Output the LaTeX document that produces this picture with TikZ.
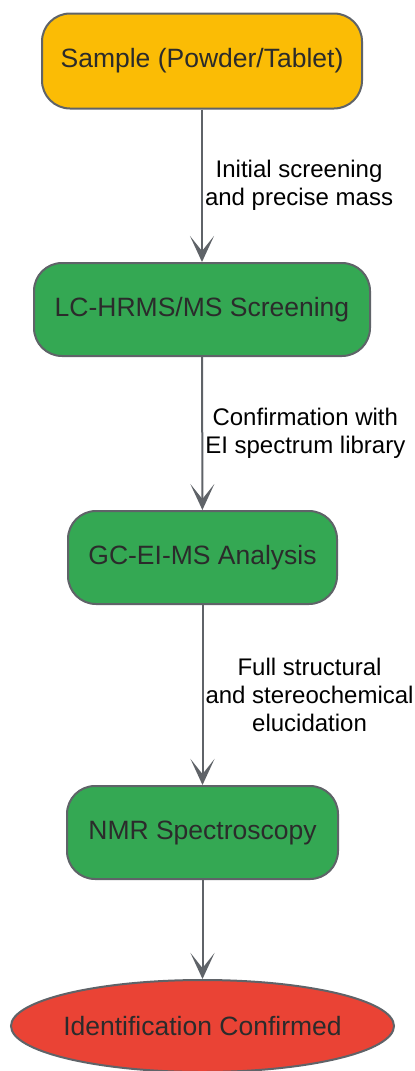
\documentclass[tikz,border=0pt]{standalone}
\usepackage{fontspec}
\setmainfont{Liberation Sans}
\usetikzlibrary{shapes.geometric,arrows.meta}
\definecolor{edgegray}{HTML}{5F6368}
\definecolor{inktext}{HTML}{2B2B2B}
\definecolor{sampleyellow}{HTML}{FBBC05}
\definecolor{stagegreen}{HTML}{34A853}
\definecolor{resultred}{HTML}{EA4335}
\tikzset{
	stage/.style={draw=edgegray, line width=2pt, rounded corners=28pt, fill=stagegreen,
		text=inktext, minimum height=93pt, font=\fontsize{26.5}{30}\selectfont},
	flow/.style={draw=edgegray, line width=2pt, -{Stealth[length=26pt,width=24pt,inset=15pt]}},
	note/.style={right, align=center, inner sep=2pt, font=\fontsize{24}{28}\selectfont}
}
\begin{document}
\begin{tikzpicture}[x=1pt,y=-1pt]
		\useasboundingbox (0,0) rectangle (415,1071);

		\node[stage, fill=sampleyellow, minimum width=320pt, minimum height=95pt] (sample) at (202,61) {Sample (Powder/Tablet)};
		\node[stage, minimum width=336pt] (lchrms) at (202,309.5) {LC-HRMS/MS Screening};
		\node[stage, minimum width=269pt] (gcms) at (202.5,557.5) {GC-EI-MS Analysis};
		\node[stage, minimum width=271pt] (nmr) at (202.5,832.5) {NMR Spectroscopy};
		\node[ellipse, draw=edgegray, line width=2pt, fill=resultred, text=inktext, inner xsep=-5pt,
			minimum width=383pt, minimum height=92pt, font=\fontsize{26.5}{30}\selectfont] (done) at (202.5,1026) {Identification Confirmed};

		\draw[flow] (sample) -- node[note] {Initial screening\\and precise mass} (lchrms);
		\draw[flow] (lchrms) -- node[note] {Confirmation with\\EI spectrum library} (gcms);
		\draw[flow] (gcms) -- node[note] {Full structural\\and stereochemical\\elucidation} (nmr);
		\draw[flow] (nmr) -- (done);
	\end{tikzpicture}
\end{document}
